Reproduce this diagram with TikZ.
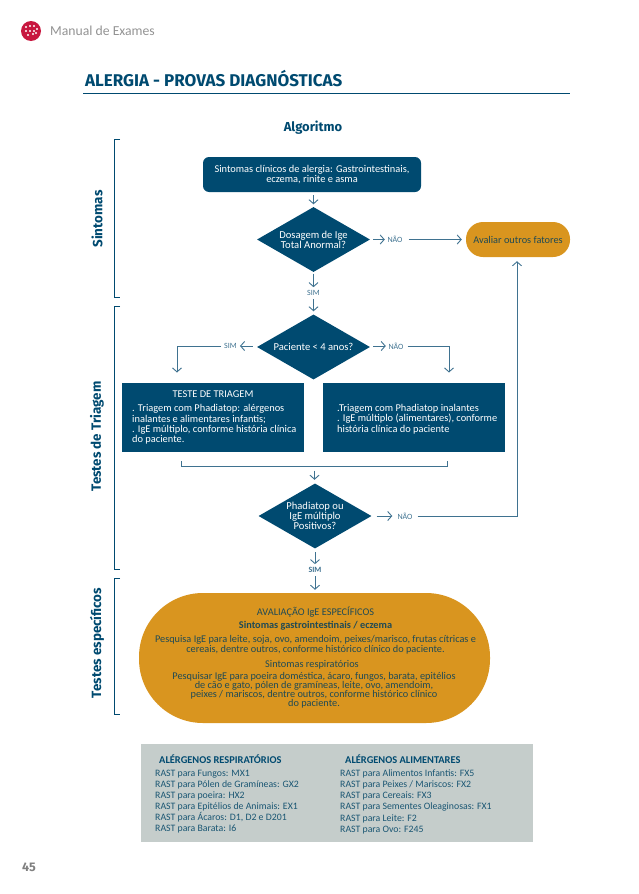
\documentclass[tikz,border=0pt]{standalone}
\usepackage{fontspec}
\setmainfont{Carlito}
\newfontfamily\headfont{Fira Sans}
\usetikzlibrary{arrows.meta,shapes.geometric}
\definecolor{navy}{HTML}{004A70}
\definecolor{steel}{HTML}{3F7290}
\definecolor{ochre}{HTML}{D9951F}
\definecolor{pale}{HTML}{C5CDCB}
\definecolor{inkd}{HTML}{1F4A55}
\definecolor{inkb}{HTML}{1A5673}
\definecolor{crim}{HTML}{C8173F}
\tikzset{
 x=1pt,y=-1pt,
 arr/.style={draw=steel,line width=0.9pt,-{Straight Barb[length=4pt,width=9pt]}},
 lin/.style={draw=steel,line width=0.9pt},
 brk/.style={draw=navy,line width=0.8pt},
 dia/.style={diamond,aspect=1.74,fill=navy,text=white,inner sep=0pt,minimum width=113pt,minimum height=65pt,align=center,font=\fontsize{10.6}{9.8}\selectfont},
 bluebox/.style={fill=navy,inner sep=0pt},
 wtxt/.style={text=white,inner sep=0pt,font=\fontsize{10.4}{10.3}\selectfont},
 lbl/.style={text=steel,inner sep=0pt,font=\fontsize{8}{8}\selectfont},
 side/.style={rotate=90,text=navy,inner sep=0pt,font=\headfont\fontsize{13.4}{13.4}\selectfont\bfseries},
 otxt/.style={text=inkd,inner sep=0pt,align=center,font=\fontsize{10.3}{10}\selectfont},
 otxtb/.style={text=inkd,inner sep=0pt,align=center,font=\fontsize{10.3}{9}\selectfont},
 rast/.style={text=inkb,inner sep=0pt,anchor=north west,align=left,font=\fontsize{9.8}{11.15}\selectfont},
 rasth/.style={text=navy,inner sep=0pt,anchor=west,font=\fontsize{10.4}{11}\selectfont\bfseries},
}
\begin{document}
\begin{tikzpicture}
\useasboundingbox (0,0) rectangle (638,894);
% header
\node[circle,fill=crim,minimum size=20pt,inner sep=0pt] (logo) at (31,31) {};
\foreach \a/\b in {26/27,30/26,34/26,37/29,26/31,30/31,34/31,28/35,33/34,36/33}{\fill[white] (\a,\b) circle (1.2pt);}
\node[anchor=west,inner sep=0pt,text=gray!85,font=\fontsize{13.7}{13.7}\selectfont] (hdr) at (50,30.5) {Manual de Exames};
\node[anchor=west,inner sep=0pt,text=navy,font=\headfont\fontsize{17}{17}\selectfont\bfseries] (title) at (85,79) {ALERGIA - PROVAS DIAGNÓSTICAS};
\coordinate (ruleA) at (83,93.5); \coordinate (ruleB) at (570,93.5);
\draw[navy,line width=0.9pt] (ruleA) -- (ruleB);
\node[inner sep=0pt,text=navy,font=\headfont\fontsize{13}{13}\selectfont\bfseries] (algo) at (313,127.5) {Algoritmo};
\node[inner sep=0pt,text=gray,font=\headfont\fontsize{12.5}{12.5}\selectfont\bfseries] (pg) at (29,867) {45};
% side brackets
\coordinate (s1) at (120,139); \coordinate (s2) at (120,297);
\coordinate (t1) at (120,306); \coordinate (t2) at (120,569);
\coordinate (u1) at (120,578); \coordinate (u2) at (120,714);
\draw[brk] (s1) -- ++(-6,0) |- (s2);
\draw[brk] (t1) -- ++(-6,0) |- (t2);
\draw[brk] (u1) -- ++(-6,0) |- (u2);
\node[side] (sa) at (97,219) {Sintomas};
\node[side] (sb) at (97,436.5) {Testes de Triagem};
\node[side] (sc) at (97,643) {Testes específicos};
% nodes
\node[bluebox,rounded corners=6pt,text=white,minimum width=218pt,minimum height=35pt,align=center,font=\fontsize{10.4}{10}\selectfont] (start) at (312,174.5) {Sintomas clínicos de alergia: Gastrointestinais,\\eczema, rinite e asma};
\node[dia] (d1) at (313.5,239.5) {Dosagem de Ige\\Total Anormal?};
\node[fill=ochre,rounded corners=17pt,minimum width=104pt,minimum height=35pt,inner sep=0pt,text=inkd,font=\fontsize{10.3}{10}\selectfont] (ext) at (518,239.5) {Avaliar outros fatores};
\node[lbl] (sim1) at (313.5,293) {SIM};
\node[lbl] (nao1) at (395,239.5) {NÃO};
\node[dia] (d2) at (313.5,347) {Paciente < 4 anos?};
\node[lbl] (sim2) at (230.5,346) {SIM};
\node[lbl] (nao2) at (396,346) {NÃO};
\node[bluebox,anchor=north west,minimum width=182pt,minimum height=69.5pt] (bl) at (122,382.5) {};
\node[bluebox,anchor=north west,minimum width=182.5pt,minimum height=69.5pt] (br) at (322.5,382.5) {};
\node[wtxt] (blh) at (213,394.5) {TESTE DE TRIAGEM};
\node[wtxt,anchor=north west,align=left] (blt) at (132,404.5) {. Triagem com Phadiatop: alérgenos\\inalantes e alimentares infantis;\\. IgE múltiplo, conforme história clínica\\do paciente.};
\node[wtxt,anchor=north west,align=left] (brt) at (337,404) {.Triagem com Phadiatop inalantes\\. IgE múltiplo (alimentares), conforme\\história clínica do paciente};
\coordinate (bA) at (181.5,461); \coordinate (bB) at (447.5,461); \coordinate (bM) at (314.5,466.5);
\draw[lin,line width=1pt] (bA) |- (bM) -| (bB);
\node[dia] (d3) at (315,516) {Phadiatop ou\\IgE múltiplo\\Positivos?};
\node[lbl] (nao3) at (405,516) {NÃO};
\node[lbl,font=\fontsize{8}{8}\selectfont\bfseries] (sim3) at (315,570) {SIM};
\node[fill=ochre,rounded corners=64pt,minimum width=351pt,minimum height=130pt,inner sep=0pt] (pill) at (314.5,658) {};
\node[otxt] (p1) at (315.5,612.5) {AVALIAÇÃO IgE ESPECÍFICOS};
\node[otxt,font=\fontsize{10.3}{10}\selectfont\bfseries] (p2) at (315.5,625.5) {Sintomas gastrointestinais / eczema};
\node[otxt] (p3) at (315.5,645) {Pesquisa IgE para leite, soja, ovo, amendoim, peixes/marisco, frutas cítricas e\\cereais, dentre outros, conforme histórico clínico do paciente.};
\node[otxt] (p4) at (312,665) {Sintomas respiratórios};
\node[otxtb] (p5) at (314,690) {Pesquisar IgE para poeira doméstica, ácaro, fungos, barata, epitélios\\de cão e gato, pólen de gramíneas, leite, ovo, amendoim,\\peixes / mariscos, dentre outros, conforme histórico clínico\\do paciente.};
\node[fill=pale,anchor=north west,minimum width=392pt,minimum height=98pt,inner sep=0pt] (gray) at (141,744) {};
\node[rasth] (g1) at (159,759) {ALÉRGENOS RESPIRATÓRIOS};
\node[rasth] (g2) at (345,759) {ALÉRGENOS ALIMENTARES};
\node[rast] (g3) at (155,769.5) {RAST para Fungos: MX1\\RAST para Pólen de Gramíneas: GX2\\RAST para poeira: HX2\\RAST para Epitélios de Animais: EX1\\RAST para Ácaros: D1, D2 e D201\\RAST para Barata: I6};
\node[rast] (g4) at (340,769.5) {RAST para Alimentos Infantis: FX5\\RAST para Peixes / Mariscos: FX2\\RAST para Cereais: FX3\\RAST para Sementes Oleaginosas: FX1\\RAST para Leite: F2\\RAST para Ovo: F245};
% connectors
\draw[arr,shorten <=3pt,shorten >=2.5pt] (start.south -| d1) -- (d1.north);
\draw[arr,shorten <=1.5pt,shorten >=3pt] (d1.south) -- (sim1.north);
\draw[arr,shorten <=3pt,shorten >=3pt] (sim1.south) -- (d2.north);
\draw[arr,shorten <=3pt,shorten >=2.5pt] (d1.east) -- (nao1.west);
\draw[arr,shorten <=6pt,shorten >=4pt] (nao1.east) -- (ext.west);
\draw[arr,shorten <=4pt,shorten >=3pt] (d2.west |- sim2) -- (sim2.east);
\coordinate (lc) at (177,346); \coordinate (rc) at (449,346);
\draw[arr,shorten >=10pt] (sim2.west) ++(-3,0) -- (lc) -- (lc |- bl.north);
\draw[arr,shorten <=3pt,shorten >=2.5pt] (d2.east |- nao2) -- (nao2.west);
\draw[arr,shorten >=10pt] (nao2.east) ++(4,0) -- (rc) -- (rc |- br.north);
\draw[arr,shorten <=4pt,shorten >=3.5pt] (bM) -- (d3.north -| bM);
\draw[arr,shorten <=5pt,shorten >=5pt] (d3.east) -- (nao3.west);
\coordinate (uc) at (517,516);
\draw[arr,shorten >=4pt] (nao3.east) ++(5,0) -- (uc) -- (uc |- ext.south);
\draw[arr,shorten <=3.5pt,shorten >=3pt] (d3.south) -- (sim3.north);
\draw[arr,shorten <=3.5pt,shorten >=3pt] (sim3.south) -- (pill.north -| sim3);
\end{tikzpicture}
\end{document}
